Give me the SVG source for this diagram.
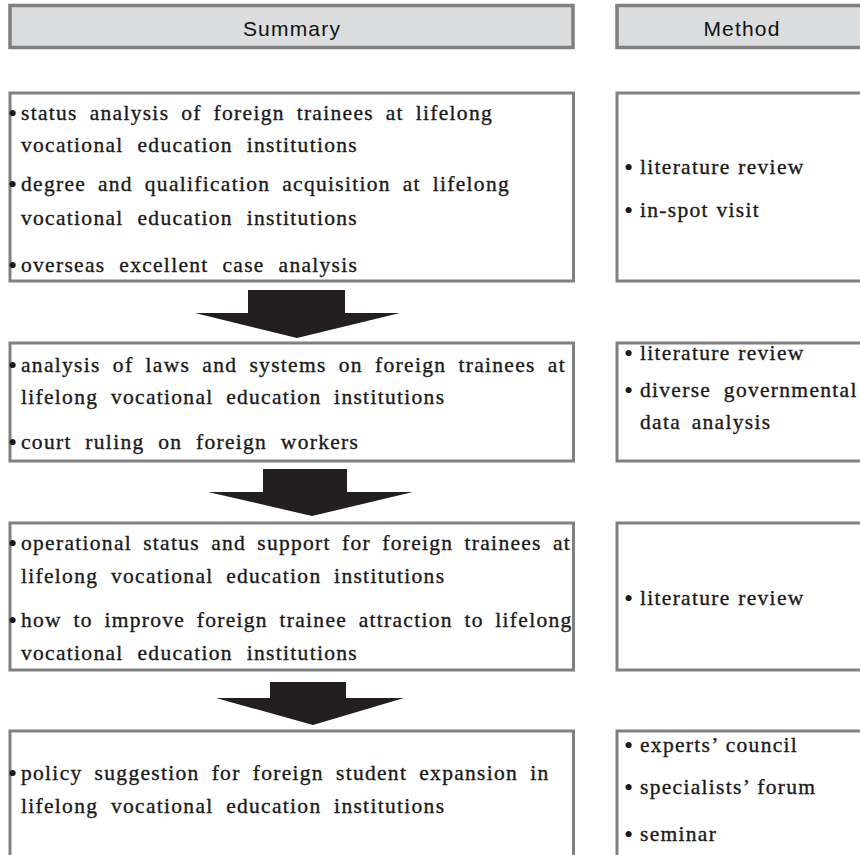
<svg xmlns="http://www.w3.org/2000/svg" width="860" height="855" viewBox="0 0 860 855">
<style>
.hdr{fill:#dcdddf;stroke:#808080;stroke-width:3.5}
.box{fill:#ffffff;stroke:#808080;stroke-width:3}
.h{font-family:"Liberation Sans",Arial,sans-serif;font-size:21px;letter-spacing:1.2px;fill:#111;text-anchor:middle}
.t{font-family:"Liberation Serif","Times New Roman",serif;font-size:21.5px;letter-spacing:1.3px;word-spacing:1px;fill:#1a1a1a;stroke:#1a1a1a;stroke-width:0.35}
.b{font-family:"Liberation Serif","Times New Roman",serif;font-size:26px;fill:#1a1a1a}
.arrow{fill:#231f20}
</style>
<rect width="860" height="855" fill="#ffffff"/>
<g id="header-summary">
<rect class="hdr" x="10" y="5.5" width="563" height="42"/>
<text class="h" x="292" y="36">Summary</text>
</g>
<g id="header-method">
<rect class="hdr" x="617" y="5.5" width="260" height="42"/>
<text class="h" x="742" y="36">Method</text>
</g>
<g id="summary-1">
<rect class="box" x="10" y="93" width="563.5" height="188"/>
<text class="b" x="8" y="122">•</text><text class="t" x="21" y="120" style="word-spacing:5.2px">status analysis of foreign trainees at lifelong</text>
<text class="t" x="21" y="152" style="word-spacing:7.3px">vocational education institutions</text>
<text class="b" x="8" y="193">•</text><text class="t" x="21" y="191" style="word-spacing:5.2px">degree and qualification acquisition at lifelong</text>
<text class="t" x="21" y="225" style="word-spacing:7.3px">vocational education institutions</text>
<text class="b" x="8" y="274">•</text><text class="t" x="21" y="272" style="word-spacing:7.2px">overseas excellent case analysis</text>
</g>
<g id="method-1">
<rect class="box" x="617" y="93" width="260" height="188"/>
<text class="b" x="624" y="176">•</text><text class="t" x="640" y="174">literature review</text>
<text class="b" x="624" y="219">•</text><text class="t" x="640" y="217">in-spot visit</text>
</g>
<g id="summary-2">
<rect class="box" x="10" y="343" width="563.5" height="118"/>
<text class="b" x="8" y="374">•</text><text class="t" x="21" y="372" style="word-spacing:5.5px">analysis of laws and systems on foreign trainees at</text>
<text class="t" x="21" y="404" style="word-spacing:6px">lifelong vocational education institutions</text>
<text class="b" x="8" y="451">•</text><text class="t" x="21" y="449" style="word-spacing:7px">court ruling on foreign workers</text>
</g>
<g id="method-2">
<rect class="box" x="617" y="343" width="260" height="118"/>
<text class="b" x="624" y="362">•</text><text class="t" x="640" y="360">literature review</text>
<text class="b" x="624" y="399">•</text><text class="t" x="640" y="397" style="word-spacing:6px">diverse governmental</text>
<text class="t" x="640" y="429" style="word-spacing:4px">data analysis</text>
</g>
<g id="summary-3">
<rect class="box" x="10" y="523" width="563.5" height="147"/>
<text class="b" x="8" y="552">•</text><text class="t" x="21" y="550" style="word-spacing:4.5px">operational status and support for foreign trainees at</text>
<text class="t" x="21" y="583" style="word-spacing:6px">lifelong vocational education institutions</text>
<text class="b" x="8" y="629">•</text><text class="t" x="21" y="627" style="word-spacing:4.9px">how to improve foreign trainee attraction to lifelong</text>
<text class="t" x="21" y="660" style="word-spacing:7.3px">vocational education institutions</text>
</g>
<g id="method-3">
<rect class="box" x="617" y="523" width="260" height="147"/>
<text class="b" x="624" y="607">•</text><text class="t" x="640" y="605">literature review</text>
</g>
<g id="summary-4">
<rect class="box" x="10" y="731" width="563.5" height="150"/>
<text class="b" x="8" y="782">•</text><text class="t" x="21" y="780" style="word-spacing:5.4px">policy suggestion for foreign student expansion in</text>
<text class="t" x="21" y="813" style="word-spacing:6px">lifelong vocational education institutions</text>
</g>
<g id="method-4">
<rect class="box" x="617" y="731" width="260" height="150"/>
<text class="b" x="624" y="754">•</text><text class="t" x="640" y="752">experts’ council</text>
<text class="b" x="624" y="796">•</text><text class="t" x="640" y="794">specialists’ forum</text>
<text class="b" x="624" y="843">•</text><text class="t" x="640" y="841">seminar</text>
</g>
<g id="connectors">
<polygon class="arrow" points="248,290 345,290 345,313 400,313 297,338 195,313 248,313"/>
<polygon class="arrow" points="263,469 347,469 347,492 413,492 312,516 208,492 263,492"/>
<polygon class="arrow" points="270,682 346,682 346,698 404,698 313,725 216,698 270,698"/>
</g>
</svg>
